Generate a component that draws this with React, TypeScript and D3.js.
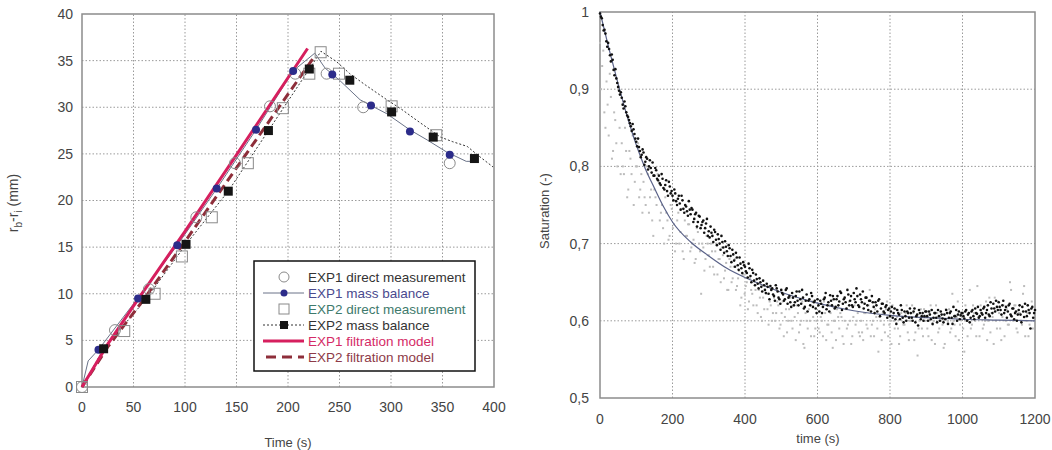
import React from "react";
import * as d3 from "d3";

// ---- left chart: front position vs time ----
const leftXTicks = [0, 50, 100, 150, 200, 250, 300, 350, 400];
const leftYTicks = [0, 5, 10, 15, 20, 25, 30, 35, 40];

const exp1Direct: [number, number][] = [
  [0, 0], [32, 6.1], [65, 10.5], [111, 18.2], [148.5, 24.0], [182.5, 30.1],
  [207, 33.6], [237.5, 33.6], [273, 30.0], [357, 24.0],
];
const exp1MassMarkers: [number, number][] = [
  [16, 4.0], [54.4, 9.5], [92.5, 15.2], [130.8, 21.3], [169, 27.6], [205, 33.9],
  [243, 33.5], [280.6, 30.2], [318.4, 27.4], [357, 24.9],
];
const exp1MassLine: [number, number][] = [
  [0, 0], [6, 2.8], [16, 4.0], [54, 9.5], [92.5, 15.2], [131, 21.3], [169, 27.6],
  [205, 33.9], [226, 35.8], [236, 34.2], [250, 32.9], [270, 30.8], [296, 29.3],
  [318, 27.6], [335, 26.5], [354, 25.2], [373, 24.2], [383, 24.2],
];
const exp2Direct: [number, number][] = [
  [0, 0], [41, 6.0], [70.5, 10.0], [97, 14.0], [126, 18.2], [161, 24.0], [195, 29.9],
  [220.7, 33.6], [231.7, 35.9], [249.5, 33.6], [300.6, 30.1], [344, 27.0],
];
const exp2MassMarkers: [number, number][] = [
  [21, 4.1], [62, 9.4], [101, 15.3], [142, 21.0], [181, 27.5], [220.7, 34.1],
  [260, 32.9], [300.6, 29.5], [341, 26.8], [381, 24.5],
];
const exp2MassLine: [number, number][] = [
  [0, 0], [21, 4.1], [62, 9.4], [101, 15.3], [142, 21.0], [181, 27.5], [220.7, 34.1],
  [232, 36.0], [247, 34.9], [260, 33.6], [275, 32.4], [296, 30.8], [310, 29.8],
  [325, 28.6], [348, 26.8], [360, 26.3], [374, 25.8], [385, 24.8], [399, 23.6],
];
const exp1Model: [number, number][] = [
  [0, 0], [25, 4.6], [55, 9.5], [100, 16.7], [150, 24.9], [219, 36.3],
];
const exp2Model: [number, number][] = [
  [0, 0], [25, 4.3], [60, 9.4], [100, 15.6], [150, 23.5], [226, 35.5],
];

// ---- right chart: saturation vs time ----
const rightXTicks = [0, 200, 400, 600, 800, 1000, 1200];
const rightYTicks = [0.5, 0.6, 0.7, 0.8, 0.9, 1];
const rightYLabels = ["0,5", "0,6", "0,7", "0,8", "0,9", "1"];

// measured saturation (black), sampled every 5 s: [row start time, values]
const blackStep = 5;
const blackRows: [number, number[]][] = [
  [0, [0.998, 0.992, 0.976, 0.972, 0.955, 0.952, 0.936, 0.938, 0.918, 0.914]],
  [50, [0.903, 0.893, 0.889, 0.875, 0.878, 0.866, 0.86, 0.852, 0.855, 0.842]],
  [100, [0.832, 0.836, 0.82, 0.815, 0.818, 0.806, 0.81, 0.8, 0.798, 0.805]],
  [150, [0.788, 0.795, 0.782, 0.778, 0.79, 0.772, 0.776, 0.768, 0.78, 0.765]],
  [200, [0.762, 0.77, 0.755, 0.758, 0.752, 0.762, 0.745, 0.75, 0.742, 0.755]],
  [250, [0.738, 0.744, 0.732, 0.74, 0.728, 0.735, 0.724, 0.73, 0.72, 0.732]],
  [300, [0.716, 0.722, 0.71, 0.718, 0.705, 0.712, 0.7, 0.71, 0.695, 0.703]],
  [350, [0.69, 0.698, 0.684, 0.692, 0.678, 0.688, 0.672, 0.682, 0.668, 0.676]],
  [400, [0.67, 0.662, 0.674, 0.658, 0.666, 0.652, 0.66, 0.648, 0.655, 0.644]],
  [450, [0.652, 0.64, 0.648, 0.635, 0.645, 0.642, 0.632, 0.646, 0.638, 0.628]],
  [500, [0.64, 0.634, 0.628, 0.642, 0.63, 0.624, 0.636, 0.62, 0.632, 0.626]],
  [550, [0.638, 0.622, 0.63, 0.618, 0.634, 0.626, 0.62, 0.632, 0.624, 0.616]],
  [600, [0.628, 0.612, 0.622, 0.618, 0.63, 0.615, 0.624, 0.633, 0.62, 0.628]],
  [650, [0.618, 0.632, 0.625, 0.636, 0.622, 0.63, 0.616, 0.634, 0.626, 0.62]],
  [700, [0.636, 0.624, 0.632, 0.618, 0.628, 0.638, 0.622, 0.63, 0.614, 0.626]],
  [750, [0.632, 0.618, 0.624, 0.612, 0.628, 0.616, 0.622, 0.61, 0.62, 0.614]],
  [800, [0.606, 0.618, 0.61, 0.602, 0.614, 0.608, 0.62, 0.604, 0.612, 0.6]],
  [850, [0.61, 0.616, 0.604, 0.612, 0.598, 0.608, 0.614, 0.602, 0.61, 0.606]],
  [900, [0.612, 0.6, 0.608, 0.614, 0.604, 0.61, 0.598, 0.606, 0.612, 0.603]],
  [950, [0.608, 0.614, 0.596, 0.61, 0.604, 0.618, 0.606, 0.6, 0.612, 0.607]],
  [1000, [0.61, 0.603, 0.614, 0.608, 0.598, 0.612, 0.606, 0.616, 0.609, 0.604]],
  [1050, [0.614, 0.608, 0.618, 0.61, 0.62, 0.606, 0.616, 0.622, 0.612, 0.618]],
  [1100, [0.624, 0.614, 0.62, 0.61, 0.618, 0.612, 0.622, 0.606, 0.616, 0.61]],
  [1150, [0.6, 0.614, 0.608, 0.618, 0.605, 0.612, 0.62, 0.61, 0.616, 0.604]],
  [1200, [0.614]],
];
const blackRowsB: [number, number[]][] = [
  [2.5, [0.994, 0.983, 0.977, 0.962, 0.96, 0.944, 0.945, 0.925, 0.926, 0.908]],
  [52.5, [0.898, 0.896, 0.88, 0.884, 0.87, 0.864, 0.856, 0.846, 0.848, 0.836]],
  [102.5, [0.826, 0.825, 0.812, 0.822, 0.802, 0.812, 0.796, 0.808, 0.792, 0.788]],
  [152.5, [0.798, 0.784, 0.788, 0.776, 0.784, 0.77, 0.782, 0.762, 0.774, 0.768]],
  [202.5, [0.756, 0.765, 0.75, 0.762, 0.744, 0.756, 0.74, 0.748, 0.736, 0.744]],
  [252.5, [0.746, 0.728, 0.738, 0.722, 0.736, 0.72, 0.728, 0.714, 0.726, 0.71]],
  [302.5, [0.708, 0.714, 0.702, 0.715, 0.698, 0.706, 0.692, 0.702, 0.688, 0.696]],
  [352.5, [0.684, 0.694, 0.676, 0.686, 0.67, 0.682, 0.666, 0.674, 0.662, 0.672]],
  [402.5, [0.664, 0.656, 0.668, 0.65, 0.662, 0.646, 0.654, 0.642, 0.65, 0.638]],
  [452.5, [0.646, 0.636, 0.644, 0.628, 0.64, 0.634, 0.626, 0.642, 0.63, 0.622]],
  [502.5, [0.636, 0.626, 0.64, 0.622, 0.632, 0.618, 0.63, 0.624, 0.638, 0.62]],
  [552.5, [0.628, 0.64, 0.616, 0.626, 0.612, 0.628, 0.636, 0.618, 0.626, 0.61]],
  [602.5, [0.62, 0.626, 0.61, 0.628, 0.636, 0.62, 0.612, 0.626, 0.632, 0.616]],
  [652.5, [0.628, 0.62, 0.638, 0.614, 0.628, 0.624, 0.64, 0.62, 0.632, 0.618]],
  [702.5, [0.628, 0.642, 0.62, 0.634, 0.624, 0.616, 0.63, 0.62, 0.626, 0.612]],
  [752.5, [0.624, 0.61, 0.62, 0.626, 0.606, 0.622, 0.612, 0.618, 0.604, 0.616]],
  [802.5, [0.612, 0.604, 0.616, 0.596, 0.61, 0.602, 0.614, 0.598, 0.606, 0.612]],
  [852.5, [0.604, 0.61, 0.6, 0.616, 0.606, 0.594, 0.61, 0.606, 0.6, 0.612]],
  [902.5, [0.606, 0.612, 0.602, 0.596, 0.61, 0.604, 0.614, 0.6, 0.608, 0.598]],
  [952.5, [0.602, 0.61, 0.604, 0.612, 0.596, 0.606, 0.614, 0.608, 0.602, 0.61]],
  [1002.5, [0.606, 0.612, 0.6, 0.61, 0.604, 0.614, 0.602, 0.61, 0.618, 0.606]],
  [1052.5, [0.61, 0.616, 0.604, 0.614, 0.608, 0.624, 0.61, 0.616, 0.626, 0.614]],
  [1102.5, [0.618, 0.608, 0.626, 0.614, 0.604, 0.62, 0.608, 0.616, 0.602, 0.612]],
  [1152.5, [0.608, 0.62, 0.598, 0.612, 0.622, 0.606, 0.614, 0.59, 0.618, 0.61]],
];

// second measurement (grey), sampled every 6 s
const greyStep = 6;
const greyRows: [number, number[]][] = [
  [0, [0.96, 0.93, 0.87, 0.91, 0.84, 0.89, 0.82, 0.86, 0.8, 0.85]],
  [60, [0.83, 0.79, 0.82, 0.77, 0.81, 0.84, 0.78, 0.8, 0.76, 0.79]],
  [120, [0.78, 0.75, 0.79, 0.76, 0.73, 0.77, 0.75, 0.78, 0.74, 0.72]],
  [180, [0.76, 0.73, 0.71, 0.745, 0.725, 0.7, 0.74, 0.715, 0.69, 0.73]],
  [240, [0.71, 0.725, 0.695, 0.705, 0.68, 0.715, 0.69, 0.7, 0.665, 0.71]],
  [300, [0.685, 0.7, 0.67, 0.69, 0.66, 0.68, 0.695, 0.655, 0.675, 0.64]],
  [360, [0.67, 0.655, 0.68, 0.645, 0.665, 0.63, 0.66, 0.645, 0.615, 0.655]],
  [420, [0.635, 0.65, 0.62, 0.64, 0.605, 0.63, 0.645, 0.615, 0.625, 0.6]],
  [480, [0.63, 0.61, 0.62, 0.595, 0.625, 0.605, 0.585, 0.615, 0.6, 0.62]],
  [540, [0.575, 0.61, 0.595, 0.625, 0.565, 0.6, 0.615, 0.58, 0.605, 0.59]],
  [600, [0.61, 0.585, 0.6, 0.625, 0.575, 0.595, 0.61, 0.565, 0.6, 0.615]],
  [660, [0.59, 0.605, 0.57, 0.615, 0.595, 0.6, 0.58, 0.62, 0.6, 0.585]],
  [720, [0.6, 0.575, 0.61, 0.59, 0.64, 0.595, 0.58, 0.605, 0.56, 0.6]],
  [780, [0.61, 0.585, 0.625, 0.595, 0.57, 0.6, 0.615, 0.59, 0.58, 0.605]],
  [840, [0.595, 0.62, 0.575, 0.6, 0.61, 0.585, 0.555, 0.6, 0.59, 0.615]],
  [900, [0.605, 0.58, 0.62, 0.595, 0.57, 0.61, 0.59, 0.6, 0.565, 0.615]],
  [960, [0.6, 0.585, 0.635, 0.595, 0.605, 0.575, 0.61, 0.59, 0.62, 0.58]],
  [1020, [0.64, 0.595, 0.61, 0.58, 0.605, 0.62, 0.59, 0.6, 0.575, 0.63]],
  [1080, [0.61, 0.57, 0.6, 0.625, 0.59, 0.605, 0.58, 0.615, 0.595, 0.64]],
  [1140, [0.6, 0.62, 0.585, 0.61, 0.595, 0.645, 0.6, 0.58, 0.615, 0.59]],
];
const greyRowsB: [number, number[]][] = [
  [3, [0.9, 0.95, 0.85, 0.88, 0.92, 0.81, 0.87, 0.83, 0.9, 0.79]],
  [63, [0.8, 0.85, 0.76, 0.82, 0.79, 0.75, 0.8, 0.83, 0.77, 0.74]],
  [123, [0.76, 0.8, 0.74, 0.77, 0.71, 0.76, 0.79, 0.73, 0.75, 0.7]],
  [183, [0.74, 0.705, 0.75, 0.72, 0.69, 0.73, 0.7, 0.745, 0.68, 0.71]],
  [243, [0.725, 0.69, 0.7, 0.675, 0.72, 0.7, 0.635, 0.695, 0.68, 0.7]],
  [303, [0.67, 0.69, 0.66, 0.7, 0.68, 0.65, 0.685, 0.665, 0.64, 0.68]],
  [363, [0.65, 0.67, 0.64, 0.655, 0.62, 0.66, 0.635, 0.65, 0.625, 0.64]],
  [423, [0.62, 0.64, 0.61, 0.63, 0.6, 0.615, 0.635, 0.595, 0.62, 0.61]],
  [483, [0.6, 0.625, 0.59, 0.61, 0.58, 0.615, 0.6, 0.63, 0.59, 0.605]],
  [543, [0.62, 0.585, 0.6, 0.57, 0.61, 0.59, 0.6, 0.625, 0.58, 0.6]],
  [603, [0.59, 0.605, 0.58, 0.61, 0.595, 0.62, 0.585, 0.6, 0.575, 0.605]],
  [663, [0.61, 0.58, 0.6, 0.59, 0.625, 0.57, 0.605, 0.595, 0.61, 0.58]],
  [723, [0.585, 0.61, 0.595, 0.62, 0.58, 0.6, 0.615, 0.59, 0.605, 0.575]],
  [783, [0.595, 0.615, 0.58, 0.6, 0.62, 0.59, 0.605, 0.57, 0.61, 0.595]],
  [843, [0.61, 0.585, 0.6, 0.62, 0.575, 0.605, 0.59, 0.615, 0.58, 0.6]],
  [903, [0.59, 0.61, 0.575, 0.6, 0.62, 0.585, 0.605, 0.595, 0.57, 0.61]],
  [963, [0.615, 0.59, 0.6, 0.58, 0.625, 0.595, 0.605, 0.56, 0.6, 0.61]],
  [1023, [0.59, 0.62, 0.6, 0.645, 0.58, 0.61, 0.595, 0.625, 0.6, 0.585]],
  [1083, [0.605, 0.63, 0.59, 0.61, 0.575, 0.62, 0.6, 0.595, 0.65, 0.605]],
  [1143, [0.62, 0.59, 0.61, 0.6, 0.635, 0.58, 0.61, 0.595, 0.625, 0.6]],
];

const modelTime = [0, 25, 50, 75, 100, 125, 150, 175, 200, 250, 300, 350, 400, 450, 500, 600, 700, 800, 900, 1000, 1100, 1200];
const modelSat = [1.0, 0.952, 0.907, 0.865, 0.828, 0.797, 0.772, 0.748, 0.728, 0.702, 0.684, 0.668, 0.656, 0.646, 0.637, 0.623, 0.613, 0.607, 0.604, 0.602, 0.601, 0.6];

const FONT = "'Liberation Sans', Arial, sans-serif";
const TXT = "#444";
const GRID = "#9a9a9a";
const FRAME = "#8c8c8c";

const flatten = (rows: [number, number[]][], step: number) =>
  rows.flatMap(([t0, vals]) => vals.map((v, j) => [t0 + j * step, v] as [number, number]));

function LeftChart() {
  const x = d3.scaleLinear().domain([0, 400]).range([82, 494]);
  const y = d3.scaleLinear().domain([0, 40]).range([387, 14]);
  const line = d3.line<[number, number]>().x(d => x(d[0])).y(d => y(d[1]));

  const legendItems = [
    { label: "EXP1 direct measurement", color: "#333", kind: "circle" },
    { label: "EXP1 mass balance", color: "#4a4a8e", kind: "dotline" },
    { label: "EXP2 direct measurement", color: "#3e7a6c", kind: "square" },
    { label: "EXP2 mass balance", color: "#333", kind: "sqline" },
    { label: "EXP1 filtration model", color: "#d52a66", kind: "model1" },
    { label: "EXP2 filtration model", color: "#8e3a48", kind: "model2" },
  ];

  return (
    <g>
      {leftXTicks.slice(1, -1).map(t => (
        <line key={"gx" + t} x1={x(t)} x2={x(t)} y1={y(0)} y2={y(40)} stroke={GRID} strokeDasharray="1.5 2" />
      ))}
      {leftYTicks.slice(1, -1).map(t => (
        <line key={"gy" + t} x1={x(0)} x2={x(400)} y1={y(t)} y2={y(t)} stroke={GRID} strokeDasharray="1.5 2" />
      ))}
      <rect x={x(0)} y={y(40)} width={x(400) - x(0)} height={y(0) - y(40)} fill="none" stroke={FRAME} strokeWidth={1.5} />

      {leftXTicks.map(t => (
        <text key={"tx" + t} x={x(t)} y={412} textAnchor="middle" fontSize={14} fill={TXT} fontFamily={FONT}>{t}</text>
      ))}
      {leftYTicks.map(t => (
        <text key={"ty" + t} x={73} y={y(t)} dy="0.35em" textAnchor="end" fontSize={14} fill={TXT} fontFamily={FONT}>{t}</text>
      ))}
      <text x={288} y={447} textAnchor="middle" fontSize={13} fill={TXT} fontFamily={FONT}>Time (s)</text>
      <text transform="translate(18,203) rotate(-90)" textAnchor="middle" fontSize={14} fill={TXT} fontFamily={FONT}>
        r<tspan fontSize={10} dy={4}>b</tspan><tspan dy={-4}>-r</tspan><tspan fontSize={10} dy={4}>i</tspan><tspan dy={-4}> (mm)</tspan>
      </text>

      <path d={line(exp1MassLine) ?? ""} fill="none" stroke="#6a7388" strokeWidth={1} />
      <path d={line(exp2MassLine) ?? ""} fill="none" stroke="#333" strokeWidth={1} strokeDasharray="2 2" />
      <path d={line(exp2Model) ?? ""} fill="none" stroke="#8e2e3a" strokeWidth={3} strokeDasharray="9 5" />
      <path d={line(exp1Model) ?? ""} fill="none" stroke="#d61f5e" strokeWidth={3} />

      {exp1Direct.map((d, i) => (
        <circle key={"c" + i} cx={x(d[0])} cy={y(d[1])} r={5.5} fill="none" stroke="#8a8a8a" strokeWidth={1} />
      ))}
      {exp2Direct.map((d, i) => (
        <rect key={"s" + i} x={x(d[0]) - 5.5} y={y(d[1]) - 5.5} width={11} height={11} fill="none" stroke="#8a8a8a" strokeWidth={1} />
      ))}
      {exp1MassMarkers.map((d, i) => (
        <circle key={"b" + i} cx={x(d[0])} cy={y(d[1])} r={4} fill="#2c2c8a" />
      ))}
      {exp2MassMarkers.map((d, i) => (
        <rect key={"k" + i} x={x(d[0]) - 4.5} y={y(d[1]) - 4.5} width={9} height={9} fill="#151515" />
      ))}

      <rect x={254} y={261} width={221} height={110} fill="#fff" stroke="#111" strokeWidth={1.5} />
      {legendItems.map((it, i) => {
        const cy = 277 + i * 16;
        const cx = 284;
        return (
          <g key={"lg" + i}>
            {it.kind === "circle" && <circle cx={cx} cy={cy} r={5} fill="none" stroke="#8a8a8a" />}
            {it.kind === "dotline" && (
              <>
                <line x1={263} x2={304} y1={cy} y2={cy} stroke="#6a7388" />
                <circle cx={cx} cy={cy} r={3.5} fill="#2c2c8a" />
              </>
            )}
            {it.kind === "square" && <rect x={cx - 5} y={cy - 5} width={10} height={10} fill="none" stroke="#8a8a8a" />}
            {it.kind === "sqline" && (
              <>
                <line x1={263} x2={304} y1={cy} y2={cy} stroke="#333" strokeDasharray="2 2" />
                <rect x={cx - 4} y={cy - 4} width={8} height={8} fill="#151515" />
              </>
            )}
            {it.kind === "model1" && <line x1={263} x2={304} y1={cy} y2={cy} stroke="#d61f5e" strokeWidth={3} />}
            {it.kind === "model2" && <line x1={266} x2={304} y1={cy} y2={cy} stroke="#8e2e3a" strokeWidth={3} strokeDasharray="10 6" />}
            <text x={308} y={cy} dy="0.35em" fontSize={13.5} fill={it.color} fontFamily={FONT}>{it.label}</text>
          </g>
        );
      })}
    </g>
  );
}

function RightChart() {
  const x = d3.scaleLinear().domain([0, 1200]).range([600, 1035]);
  const y = d3.scaleLinear().domain([0.5, 1]).range([398, 12]);
  const black = [...flatten(blackRows, blackStep), ...flatten(blackRowsB, blackStep)];
  const grey = [...flatten(greyRows, greyStep), ...flatten(greyRowsB, greyStep)];
  const model = modelTime.map((t, i) => [t, modelSat[i]] as [number, number]);
  const line = d3.line<[number, number]>().x(d => x(d[0])).y(d => y(d[1])).curve(d3.curveMonotoneX);

  return (
    <g>
      {rightXTicks.slice(1, -1).map(t => (
        <line key={"gx" + t} x1={x(t)} x2={x(t)} y1={y(0.5)} y2={y(1)} stroke={GRID} strokeDasharray="1.5 2" />
      ))}
      {rightYTicks.slice(1, -1).map(t => (
        <line key={"gy" + t} x1={x(0)} x2={x(1200)} y1={y(t)} y2={y(t)} stroke={GRID} strokeDasharray="1.5 2" />
      ))}
      <rect x={x(0)} y={y(1)} width={x(1200) - x(0)} height={y(0.5) - y(1)} fill="none" stroke={FRAME} strokeWidth={1.5} />

      {rightXTicks.map(t => (
        <text key={"tx" + t} x={x(t)} y={424} textAnchor="middle" fontSize={14} fill={TXT} fontFamily={FONT}>{t}</text>
      ))}
      {rightYTicks.map((t, i) => (
        <text key={"ty" + t} x={589} y={y(t)} dy="0.35em" textAnchor="end" fontSize={14} fill={TXT} fontFamily={FONT}>{rightYLabels[i]}</text>
      ))}
      <text x={818} y={443} textAnchor="middle" fontSize={13} fill={TXT} fontFamily={FONT}>time (s)</text>
      <text transform="translate(549,211) rotate(-90)" textAnchor="middle" fontSize={13} fill={TXT} fontFamily={FONT}>Saturation (-)</text>

      {grey.map((d, i) => (
        <rect key={"g" + i} x={x(d[0]) - 1} y={y(d[1]) - 1} width={2} height={2} fill="#bcbcbc" />
      ))}
      <path d={line(model) ?? ""} fill="none" stroke="#5a6288" strokeWidth={1.2} />
      {black.map((d, i) => (
        <circle key={"k" + i} cx={x(d[0])} cy={y(d[1])} r={1.3} fill="#111" />
      ))}
    </g>
  );
}

export default function App() {
  return (
    <svg width={1052} height={450} style={{ position: "absolute", left: 0, top: 0, background: "#fff" }}>
      <LeftChart />
      <RightChart />
    </svg>
  );
}
